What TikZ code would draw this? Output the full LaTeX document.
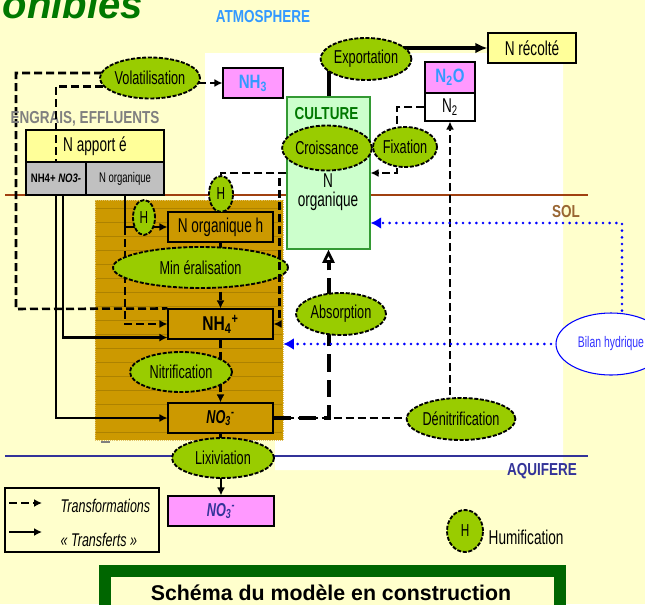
\documentclass[tikz,border=0pt]{standalone}
\usepackage{fontspec}
\setmainfont{Liberation Sans}
\newfontfamily\nar{Liberation Sans}[FakeStretch=0.68]
\newfontfamily\narb{Liberation Sans}[FakeStretch=0.78]
\usetikzlibrary{shapes.geometric, arrows.meta, positioning}
\pgfdeclarelayer{fond}
\pgfdeclarelayer{liens}
\pgfsetlayers{fond,liens,main}

\definecolor{creme}{RGB}{255,255,204}
\definecolor{terre}{RGB}{204,153,0}
\definecolor{vertpomme}{RGB}{153,204,0}
\definecolor{rose}{RGB}{255,153,255}
\definecolor{vertclair}{RGB}{204,255,204}
\definecolor{vertcult}{RGB}{51,153,51}
\definecolor{vertfonce}{RGB}{0,120,0}
\definecolor{vertcadre}{RGB}{0,102,0}
\definecolor{jaune}{RGB}{255,255,153}
\definecolor{gris}{RGB}{192,192,192}
\definecolor{bleuciel}{RGB}{51,153,255}
\definecolor{bleunuit}{RGB}{51,51,153}
\definecolor{bleueau}{RGB}{0,0,255}
\definecolor{brique}{RGB}{160,64,16}
\definecolor{solbrun}{RGB}{153,102,51}

\begin{document}
\begin{tikzpicture}[x=0.75pt,y=0.75pt,yscale=-1,
  processus/.style={ellipse, draw, fill=vertpomme, line width=1.4pt, dash pattern=on 3pt off 1.2pt, inner sep=0pt, font=\nar\fontsize{14}{15}\selectfont},
  hum/.style={processus, font=\nar\fontsize{13}{14}\selectfont},
  stock/.style={rectangle, draw, line width=0.8pt, inner sep=0pt, minimum width=78.75pt, minimum height=22.5pt, font=\nar\fontsize{15}{16}\selectfont},
  zone/.style={font=\narb\bfseries\fontsize{13}{14}\selectfont},
  transfo/.style={line width=1.9pt, dash pattern=on 6pt off 3pt},
  transfert/.style={line width=1.6pt},
  pointe/.style={-{Latex[length=6pt,width=6pt]}},
  eau/.style={bleueau, line width=2.2pt, dash pattern=on 0pt off 5pt, line cap=round, -{Latex[length=8pt,width=9pt]}}]
\useasboundingbox (0,0) rectangle (645,604);

% fonds
\begin{pgfonlayer}{fond}
\fill[creme] (0,0) rectangle (645,604);
\fill[white] (205,53) -- (563,53) -- (563,470) -- (275,470) -- (275,440) -- (205,440) -- cycle;
\draw[brique, line width=1.2pt] (5,195) -- (588,195);
\draw[bleunuit, line width=1.2pt] (5,456) -- (588,456);
\node[rectangle, fill=terre, draw=terre!60!white, densely dotted, minimum width=141pt, minimum height=180pt, inner sep=0pt] (sol) at (189,320) {};
\foreach \y in {208,222,...,436}
  \draw[terre!85!black, line width=0.5pt] (96,\y) -- (282,\y);
\draw[gray, line width=1.5pt] (101,442) -- (110,442);
\end{pgfonlayer}

% titres des zones
\node[anchor=base west, font=\bfseries\itshape\fontsize{30}{30}\selectfont, text=vertfonce] (titre) at (-2,18) {onibles};
\node[zone, text=bleuciel] (atmos) at (263,17) {ATMOSPHERE};
\node[zone, text=gray] (engrais) at (85,119) {ENGRAIS, EFFLUENTS};
\node[zone, text=solbrun] (sollab) at (566,212) {SOL};
\node[zone, text=bleunuit] (aquif) at (542,471.5) {AQUIFERE};

% apports
\node[stock, fill=jaune, minimum width=103.5pt, minimum height=24pt] (apport) at (95,146) {N apport é};
\node[stock, fill=gris, minimum width=45pt, minimum height=24.75pt, font=\narb\bfseries\fontsize{9.2}{10}\selectfont] (minapp) at (56,178.5) {NH4+ \textit{NO3-}};
\node[stock, fill=gris, minimum width=58.5pt, minimum height=24.75pt, font=\nar\fontsize{10.5}{11}\selectfont] (orgapp) at (125,178.5) {N organique};
\node[processus, minimum width=75pt, minimum height=30.75pt] (volat) at (150,78) {Volatilisation};
\node[stock, fill=rose, minimum width=45pt, font=\narb\bfseries\fontsize{14.5}{15}\selectfont, text=bleuciel] (nh3) at (253,83) {NH\textsubscript{3}};

% culture
\node[rectangle, draw=vertcult, fill=vertclair, line width=0.8pt, minimum width=62.25pt, minimum height=114pt, inner sep=0pt] (culture) at (328.5,173) {};
\node[zone, text=vertfonce] (cultlab) at (326.5,114) {CULTURE};
\node[anchor=base, font=\nar\fontsize{15}{16}\selectfont] (culN) at (328,187) {N};
\node[anchor=base, font=\nar\fontsize{15}{16}\selectfont] (culOrg) at (328,206) {organique};
\node[processus, minimum width=66pt, minimum height=33.75pt] (croiss) at (327,148) {Croissance};
\node[processus, minimum width=64.5pt, minimum height=31.5pt] (export) at (366,59) {Exportation};
\node[stock, fill=jaune, minimum width=66pt] (recolte) at (532,48) {N récolté};
\node[stock, fill=rose, minimum width=37.5pt, minimum height=23.25pt, font=\narb\bfseries\fontsize{14.5}{15}\selectfont, text=bleuciel] (n2o) at (450,77.5) {N\textsubscript{2}O};
\node[stock, fill=white, minimum width=37.5pt, minimum height=21pt] (n2) at (450,107) {N\textsubscript{2}};
\node[processus, minimum width=48pt, minimum height=30pt] (fix) at (405,147) {Fixation};

% sol
\node[stock, fill=terre] (norgh) at (220.5,227) {N organique h};
\node[processus, minimum width=131.25pt, minimum height=30.75pt] (miner) at (200.5,267.5) {Min éralisation};
\node[stock, fill=terre, font=\narb\bfseries\fontsize{15}{16}\selectfont] (nh4) at (220.5,324) {NH\textsubscript{4}\textsuperscript{+}};
\node[processus, minimum width=76.5pt, minimum height=30pt] (nitrif) at (181,372) {Nitrification};
\node[stock, fill=terre, font=\nar\bfseries\itshape\fontsize{14}{15}\selectfont] (no3) at (220.5,418) {NO\textsubscript{3}\textsuperscript{-}};
\node[processus, minimum width=67.5pt, minimum height=31.5pt] (absorp) at (341,314) {Absorption};
\node[processus, minimum width=78pt, minimum height=31.5pt] (denitr) at (461,419) {Dénitrification};
\node[hum, minimum width=16.5pt, minimum height=26.25pt] (hA) at (144,217.5) {H};
\node[hum, minimum width=18pt, minimum height=27pt] (hB) at (221,194) {H};
\node[ellipse, draw=bleueau, fill=white, line width=0.8pt, minimum width=82.5pt, minimum height=46.5pt, inner sep=0pt, text={rgb,255:red,51;green,51;blue,255}, font=\nar\fontsize{11.5}{12}\selectfont] (bilan) at (611,344) {Bilan hydrique};

% aquifere
\node[processus, minimum width=76.5pt, minimum height=30pt] (lixiv) at (223,458) {Lixiviation};
\node[stock, fill=rose, minimum width=79.5pt, font=\nar\bfseries\itshape\fontsize{14}{15}\selectfont, text=bleunuit] (no3aq) at (221,511) {NO\textsubscript{3}\textsuperscript{-}};

% liens sous les noeuds
\begin{pgfonlayer}{liens}
\draw[line width=3pt] (culture.north) -- (culture.north |- export.center);
\draw[line width=3pt, -{Latex[length=9pt,width=8pt]}] (export.center |- recolte.west) -- (recolte.west);
\draw[line width=3pt, dash pattern=on 13pt off 6pt, -{Triangle[open, length=10pt, width=9pt, line width=2pt]}] (no3.east) -| (culture.south);
\draw[transfo] (no3.east) -- (no3.east -| denitr.west);
\draw[transfo, pointe] (n2.south |- denitr.center) -- (n2.south);
\draw[transfo] (n2.west) -| ([xshift=-6pt]fix.north);
\draw[transfo, pointe] ([xshift=-6pt]fix.south) |- (culture.east);
\draw[transfo, pointe] (volat.center |- nh3.west) -- (nh3.west);
\draw[transfo] ([yshift=-3.75pt]volat.center) -| (16,309) -- (nh4.north west);
\draw[transfert, pointe] (minapp.south) |- (no3.west);
\draw[transfert, pointe] ([xshift=5.25pt]minapp.south) |- ([yshift=-1.5pt]nh4.south west);
\draw[transfert, pointe] (orgapp.south) |- (norgh.west);
\draw[transfo, pointe] (orgapp.south |- norgh.west) |- (nh4.west);
\draw[transfo] (norgh.south) -- (norgh.south |- miner.center);
\draw[transfo, pointe] (nh4.north |- miner.center) -- (nh4.north);
\draw[transfo] (nh4.south) -- (nh4.south |- nitrif.center);
\draw[transfo, pointe] (no3.north |- nitrif.center) -- (no3.north);
\draw[transfert] (no3.south) -- (no3.south |- lixiv.center);
\draw[transfert, pointe] (no3aq.north |- lixiv.center) -- (no3aq.north);
\draw[eau] ([xshift=8.25pt]bilan.center) |- ([yshift=37.5pt]culture.east);
\draw[eau] (bilan.center) -- (bilan.center -| sol.east);
\end{pgfonlayer}

% liens au-dessus
\draw[transfo] (volat.190) -| (minapp.north);
\draw[transfo] (culture.west) -| (hB.north);
\draw[transfo, pointe] (culture.west) -- ++(-7,0) |- (nh4.east);

% legende
\node[rectangle, draw, line width=1pt, minimum width=115.5pt, minimum height=48pt, inner sep=0pt] (legende) at (82,520) {};
\coordinate (l1a) at (9,503);
\coordinate (l1b) at (42,503);
\coordinate (l2a) at (9,532);
\coordinate (l2b) at (42,532);
\draw[transfo, pointe] (l1a) -- (l1b);
\draw[transfert, pointe] (l2a) -- (l2b);
\node[anchor=west, font=\nar\itshape\fontsize{13.8}{14}\selectfont] (lTransfo) at (56,506) {Transformations};
\node[anchor=west, font=\nar\itshape\fontsize{13.8}{14}\selectfont] (lTransfert) at (56,540) {« Transferts »};
\node[hum, minimum width=27pt, minimum height=31.5pt] (hLeg) at (465,531) {H};
\node[anchor=west, font=\nar\fontsize{15}{16}\selectfont] (humif) at (484,537) {Humification};

% cadre du bas
\draw[vertcadre, line width=9pt, fill=creme] (104.5,571) rectangle (560,640);
\node[anchor=base, font=\bfseries\fontsize{16}{16}\selectfont] (schema) at (331,600) {Schéma du modèle en construction};

\end{tikzpicture}
\end{document}
